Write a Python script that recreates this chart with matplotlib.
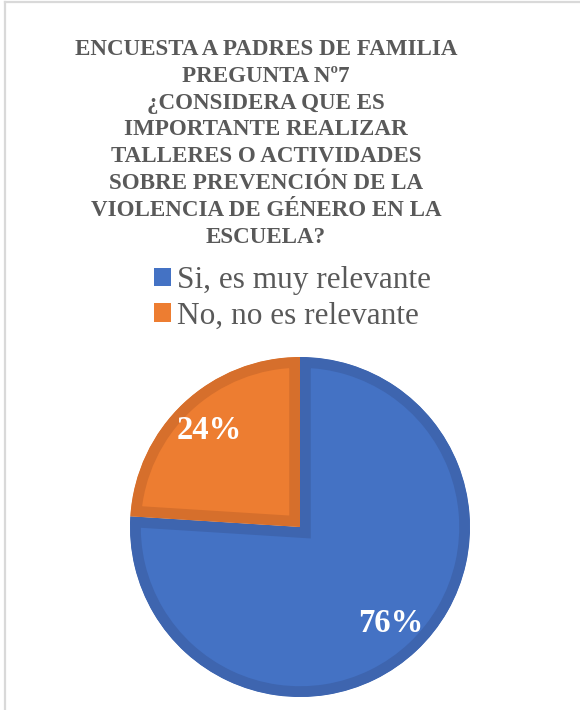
import matplotlib
matplotlib.use("Agg")
import matplotlib.pyplot as plt
from matplotlib.patches import Patch
from matplotlib.lines import Line2D

# ---- data ----
title_lines = [
    "ENCUESTA A PADRES DE FAMILIA",
    "PREGUNTA Nº7",
    "¿CONSIDERA QUE ES",
    "IMPORTANTE REALIZAR",
    "TALLERES O ACTIVIDADES",
    "SOBRE PREVENCIÓN DE LA",
    "VIOLENCIA DE GÉNERO EN LA",
    "ESCUELA?",
]
categories = ["Si, es muy relevante", "No, no es relevante"]
values = [76, 24]
fill_colors = ["#4472C4", "#ED7D31"]
edge_colors = ["#3E65AF", "#D66F2C"]

W, H = 580, 710
fig = plt.figure(figsize=(W / 100, H / 100), dpi=100)
fig.patch.set_facecolor("white")

serif = "Liberation Serif"
gray = "#595959"

# frame lines (chart border partially visible)
fig.add_artist(Line2D([5 / W, 5 / W], [0, 1 - 1.5 / H], transform=fig.transFigure,
                      color="#D9D9D9", lw=1.6))
fig.add_artist(Line2D([5 / W, 1], [1 - 1.5 / H, 1 - 1.5 / H], transform=fig.transFigure,
                      color="#D9D9D9", lw=1.6))

# title, one line at a time for even spacing
for i, line in enumerate(title_lines):
    yb = 55 + 26.8 * i
    fig.text(266 / W, 1 - yb / H, line, ha="center", va="baseline",
             fontsize=16.6, fontweight="bold", family=serif, color=gray)

# pie
cx, cy, r = 300, 527, 170
ax = fig.add_axes([(cx - r) / W, (H - cy - r) / H, 2 * r / W, 2 * r / H])
wedges, texts, autotexts = ax.pie(
    values, colors=fill_colors, startangle=90, counterclock=False,
    autopct="%1.0f%%", pctdistance=0.78, radius=1,
    wedgeprops=dict(linewidth=15.5, joinstyle="miter"),
    textprops=dict(color="white", fontsize=23.5, fontweight="bold", family=serif),
)
for w, ec in zip(wedges, edge_colors):
    w.set_edgecolor(ec)
    w.set_clip_on(True)
    w.set_clip_path(w)
ax.set_xlim(-1, 1)
ax.set_ylim(-1, 1)
ax.axis("off")

# legend
handles = [Patch(facecolor=c, edgecolor="none") for c in fill_colors]
leg = fig.legend(handles, categories, loc="upper left",
                 bbox_to_anchor=(154 / W, 1 - 266 / H), frameon=False,
                 prop=dict(family=serif, size=22.5), labelcolor=gray,
                 handlelength=0.55, handleheight=0.55, handletextpad=0.2,
                 labelspacing=0.22, borderpad=0, borderaxespad=0)

fig.savefig("out.png", dpi=100)
